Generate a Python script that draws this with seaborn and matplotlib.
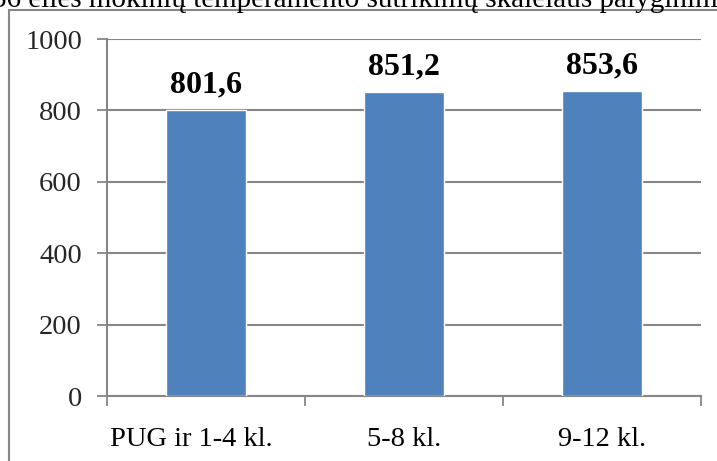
import matplotlib
matplotlib.use("Agg")
import matplotlib.pyplot as plt
import matplotlib.transforms as mtransforms
import seaborn as sns
import pandas as pd
from matplotlib.patches import Rectangle

# duomenys
grupes = ["PUG ir 1-4 kl.", "5-8 kl.", "9-12 kl."]
reiksmes = [801.6, 851.2, 853.6]
y_ticks = [0, 200, 400, 600, 800, 1000]
pavadinimas = "36 eilės mokinių temperamento sutrikimų skalėlaus palyginimas"

df = pd.DataFrame({"grupe": grupes, "reiksme": reiksmes})

sns.set_theme(style="white")
plt.rcParams["font.family"] = ["Liberation Serif", "DejaVu Serif"]

W, H = 717, 461
fig = plt.figure(figsize=(W / 100, H / 100), dpi=100)
ax = fig.add_axes([107 / W, 65 / H, (701 - 107) / W, (396 - 39) / H])

sns.barplot(data=df, x="grupe", y="reiksme", color="#4F81BD", width=0.4,
            saturation=1, ax=ax, zorder=3)

ax.set_ylim(0, 1000)
ax.set_xlim(-0.5, 2.5)
ax.set_yticks(y_ticks)
ax.set_yticklabels([str(v) for v in y_ticks], fontsize=20.5)
ax.set_xticks(range(len(grupes)))
ax.set_xticklabels(grupes, fontsize=20.5)
ax.set_xticks([-0.5, 0.5, 1.5, 2.5], minor=True)
ax.tick_params(axis="x", which="major", length=0, pad=22, colors="black")
ax.tick_params(axis="x", which="minor", length=7, width=1.3, color="#868686", bottom=True)
ax.tick_params(axis="y", which="major", length=7, width=1.3, color="#868686", left=True, pad=11)
ax.set_xlabel("")
ax.set_ylabel("")

# pirmoji etikete pastumta kairen, kaip originale
lbl = ax.get_xticklabels()[0]
lbl.set_transform(lbl.get_transform() + mtransforms.ScaledTranslation(-15 / 100, 0, fig.dpi_scale_trans))

ax.yaxis.grid(True, color="#868686", linewidth=1.5, zorder=0)
ax.set_axisbelow(True)
for s in ["top", "right"]:
    ax.spines[s].set_visible(False)
for s in ["left", "bottom"]:
    ax.spines[s].set_color("#868686")
    ax.spines[s].set_linewidth(1.5)

for i, v in enumerate(reiksmes):
    ax.text(i, v + 50, f"{v:.1f}".replace(".", ","), ha="center", va="baseline",
            fontsize=23, fontweight="bold", color="black")

# isorinis remelis
fig.patches.append(Rectangle((9 / W, -0.1), 1.2, 1 - 10 / H + 0.1,
                             transform=fig.transFigure, fill=False,
                             edgecolor="#868686", linewidth=1.5))

# nukirptas pavadinimas
fig.text(-8 / W, 1 - 7 / H, pavadinimas, ha="left", va="baseline",
         fontsize=21, color="black")

fig.savefig("out.png", dpi=100)
